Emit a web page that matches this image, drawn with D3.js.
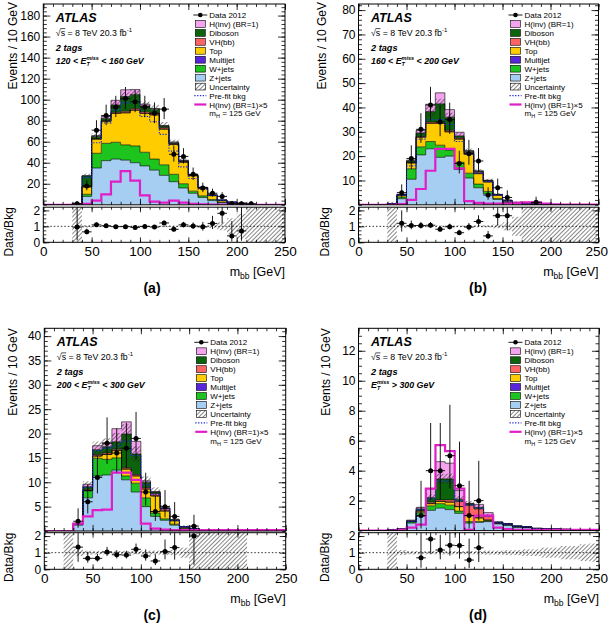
<!DOCTYPE html>
<html><head><meta charset="utf-8">
<script src="https://cdn.jsdelivr.net/npm/d3@7"></script>
<style>body{margin:0;background:#fff}svg{display:block}text{font-family:"Liberation Sans",Arial,Helvetica,sans-serif}</style>
</head><body><svg id="c" width="610" height="626"></svg>
<script>
// ---------------- DATA (25 bins of 10 GeV, 0-250 GeV) ----------------
const binEdges = d3.range(0, 251, 10);
const binCenters = d3.range(5, 250, 10);
const layerNames = ["Z+jets","W+jets","Top","Multijet","VH(bb)","Diboson","H(inv) (BR=1)"];
const xTickLabels = [0,50,100,150,200,250];

// (a) 120 < MET < 160 GeV
const aZjets   = [0,0,0,0.6,8,35,42,43.5,42.5,40,37,33,28,22,16,11,7,4,2,1,0.6,0.05,0.05,0.05,0.05];
const aWjets   = [0,0,0,0.1,2,14,16.5,16,14.5,16,13,10.5,10,7,4,2,1.5,1,0.5,0.3,0.2,0,0,0,0];
const aTop     = [0,0,0,0.2,7,13.5,21,27.5,30.5,34,37,42,34,28.5,20.5,14.5,7.3,3.6,1.4,1,0.5,0,0,0,0];
const aMultijet= [0,0,0,0,0,0,0,0,0,0,0,0,0,0,0.2,0.3,0.3,0.5,0.5,0.2,0.1,0,0,0,0];
const aVH      = [0,0,0,0,0.5,0.5,0.5,1,1.5,1.5,1.5,1.5,1.5,0.5,0.5,0.3,0.2,0,0,0,0,0,0,0,0];
const aDiboson = [0,0,0,0.15,10,2,2,7,14,13.5,5.5,4,1.5,1,0.8,0.4,0.2,0.2,0,0,0,0,0,0,0];
const aHinv    = [0,0,0,0,0.2,0.8,2,4.4,6.4,4.6,1.8,0.6,0.4,0.8,0.4,0.2,0.1,0.06,0.05,0,0,0,0,0,0];
const aData    = [0,0,0,1,18,71,85,93,101,98,93,87,91,48,46,29,16,11,8,1,1,1,0,0,0];
const aPrefit  = [0,0,0,1,26,59,78,90,97,98,84,79,67,51,36,25,15,9,4.5,2.3,1.3,0.05,0.05,0.05,0.05];
const aHinv5   = [0,0,0,0.2,1,4,10,22,32,23,9,3,2,4,2,1,0.5,0.3,0.2,0.1,0,0,0,0,0];
const aRelUnc  = [0,0,0,1.5,0.08,0.045,0.04,0.04,0.04,0.04,0.045,0.045,0.05,0.05,0.05,0.06,0.07,0.1,0.25,0.5,0.8,1.5,1.5,1.5,1.5];

// (b) 160 < MET < 200 GeV
const bZjets   = [0,0,0,0.3,2.5,10.5,20.5,23,19.5,20,14.5,11,7,4.5,2.2,0.9,0.3,0.2,0.15,0.05,0.05,0.05,0.05,0.05,0.05];
const bWjets   = [0,0,0,0.1,0.7,4.3,3.3,3,5,2.5,3,2,1.5,1,0.4,0.2,0.1,0.05,0,0,0,0,0,0,0];
const bTop     = [0,0,0,0.1,0.7,2.4,4,7.5,9,7.5,9.5,7.8,4.3,3.9,1.3,0.4,0.2,0.1,0.05,0,0,0,0,0,0];
const bMultijet= [0,0,0,0,0,0,0,0,0,0,0,0,0,0,0.2,0.3,0.3,0.2,0.1,0,0,0,0,0,0];
const bVH      = [0,0,0,0,0.1,0.2,0.3,0.5,0.6,0.6,0.5,0.7,0.6,0.3,0,0,0,0,0,0,0,0,0,0,0];
const bDiboson = [0,0,0,0,0.2,0.6,1.4,4.3,7.4,5.4,0.8,0.5,0.4,0.3,0.1,0,0,0,0,0,0,0,0,0,0];
const bHinv    = [0,0,0,0,0.1,0.3,1.1,3,4.5,3.1,1.5,0.3,0.15,0.1,0.1,0.1,0.15,0.2,0.2,0.1,0,0,0,0,0];
const bData    = [0,0,0,0,5,19,31,41,34,35,17,21,18,4,7,3,0,0,1,0,0,0,0,0,0];
const bPrefit  = [0,0,0,0.45,4,16,27,35,35,33,26,21,13,9.5,4,1.7,0.8,0.5,0.3,0.05,0.05,0.05,0.05,0.05,0.05];
const bHinv5   = [0,0,0,0,0.3,2,6.5,14,23,23,15,1.5,0.8,0.5,0.5,0.5,0.8,1,1,0.5,0.2,0.1,0.1,0.1,0.1];
const bRelUnc  = [0,0,0,1.5,0.1,0.05,0.05,0.05,0.05,0.05,0.05,0.05,0.06,0.07,0.12,0.25,0.6,1.5,1.5,1.5,1.5,1.5,1.5,1.5,1.5];

// (c) 200 < MET < 300 GeV
const cZjets   = [0,0,0.05,1.2,6.8,11.3,11.5,12.5,10.5,8,5,3,2.2,1.2,0.4,0.3,0.1,0.1,0.1,0.1,0.1,0,0,0,0];
const cWjets   = [0,0,0,0.2,1.5,3.6,3.2,2.5,0.8,1.8,1.8,0.7,0.3,0.2,0.1,0,0,0,0,0,0,0,0,0,0];
const cTop     = [0,0,0,0,0,0.5,1,1.5,1.4,1.5,1.8,3.5,1.6,0.7,0.2,0,0,0,0,0,0,0,0,0,0];
const cMultijet= [0,0,0,0,0,0,0,0,0,0,0,0,0,0,0.2,0.2,0,0,0,0,0,0,0,0,0];
const cVH      = [0,0,0,0,0.2,0.3,0.3,0.3,0.3,0.3,0.3,0.5,0.5,0.1,0,0,0,0,0,0,0,0,0,0,0];
const cDiboson = [0,0,0,0.1,0.6,1,1.3,1.5,6.9,4.2,1.1,0.3,0.1,0.1,0,0,0,0,0,0,0,0,0,0,0];
const cHinv    = [0,0,0,0.1,0.5,0.8,0.8,2.7,2.5,2.6,0.3,0.1,0.05,0,0,0,0,0,0,0,0,0,0,0,0];
const cData    = [0,0,0,2,6,11,18,16,17,19,8,4,5,3,0,1,0,0,0,0,0,0,0,0,0];
const cPrefit  = [0,0,0.05,1.4,9,16.5,17,17.5,18.5,15.5,9.5,7.5,4.5,2.2,0.9,0.5,0.1,0.1,0.1,0.1,0.1,0,0,0,0];
const cHinv5   = [0,0,0,1.5,3,4.3,4.4,12,12,10.5,1.5,0.5,0.3,0.2,0.2,0.2,0.2,0.2,0.2,0.2,0.2,0.2,0.2,0.2,0.2];
const cRelUnc  = [0,0,1.5,0.2,0.12,0.1,0.1,0.1,0.1,0.1,0.12,0.12,0.13,0.15,0.3,1.5,1.5,1.5,1.5,1.5,1.5,0,0,0,0];

// (d) MET > 300 GeV
const dZjets   = [0,0,0,0.05,0.08,0.5,0.95,1.35,1.5,1.4,1.15,0.5,0.55,0.6,0.45,0.35,0.22,0.19,0.12,0.1,0.1,0.08,0.06,0.06,0.06];
const dWjets   = [0,0,0,0,0.01,0.08,0.25,0.3,0.3,0.3,0.15,0.1,0.05,0.05,0.02,0.02,0.02,0.02,0.01,0.01,0,0,0,0,0];
const dTop     = [0,0,0,0,0.01,0.03,0.1,0.15,0.15,0.2,0.3,0.4,0.25,0.05,0.03,0.03,0.02,0.02,0.01,0.01,0,0,0,0,0];
const dMultijet= [0,0,0,0,0,0,0,0,0,0,0,0,0,0,0,0.05,0.04,0.02,0.01,0,0,0,0,0,0];
const dVH      = [0,0,0,0,0,0.02,0.05,0.1,0.1,0.15,0.35,0.7,0.6,0.25,0.05,0,0,0,0,0,0,0,0,0,0];
const dDiboson = [0,0,0,0,0,0.02,0.1,0.3,1.4,1.4,0.15,0.1,0.1,0.05,0,0,0,0,0,0,0,0,0,0,0];
const dHinv    = [0,0,0,0,0,0.05,0.1,0.6,1.15,1.05,0.57,0.02,0.2,0.2,0.04,0.02,0.01,0,0,0,0,0,0,0,0];
const dData    = [0,0,0,0,0,0,1,4,4,5,3,1,2,0,0,0,0,0,0,0,0,0,0,0,0];
const dPrefit  = [0,0,0,0.05,0.1,0.62,1.4,2.1,3.3,3.3,2.0,1.7,1.5,0.95,0.52,0.43,0.29,0.24,0.14,0.11,0.1,0.08,0.06,0.06,0.06];
const dHinv5   = [0,0,0,0,0.05,0.2,0.4,2.8,5.7,5.3,2.8,0.05,1,1,0.2,0.1,0.05,0.05,0.05,0.05,0.05,0.05,0.05,0.05,0.05];
const dRelUnc  = [0,0,0,1.5,0.15,0.1,0.1,0.1,0.1,0.1,0.1,0.1,0.1,0.12,0.12,0.15,0.15,0.2,0.2,0.3,0.3,0.4,0.4,0.5,0.55];

// ---------------- STYLE / LAYOUT ----------------
const layerColors = ["#a6cdf2","#1ec41e","#ffcc00","#5a23dc","#ff6464","#0b640b","#f4a3ef"];
const hinvLineColor = "#e01ec8", prefitColor = "#1e2dd6";

const panels = [
  {key:"a", label:"(a)", met:["120 < ", " < 160 GeV"],
   layers:[aZjets,aWjets,aTop,aMultijet,aVH,aDiboson,aHinv], data:aData, prefit:aPrefit, hinv5:aHinv5, rel:aRelUnc,
   f:{x0:43.3,x1:285,y0:4,y1:204.8,r0:207.2,r1:242.3}, ymax:191, yMajor:d3.range(20,181,20), yMinor:d3.range(0,191,4),
   evX:16.5, evY:2, dbX:13, labX:152, legTop:15},
  {key:"b", label:"(b)", met:["160 < ", " < 200 GeV"],
   layers:[bZjets,bWjets,bTop,bMultijet,bVH,bDiboson,bHinv], data:bData, prefit:bPrefit, hinv5:bHinv5, rel:bRelUnc,
   f:{x0:358.5,x1:598.5,y0:4,y1:204.8,r0:207.2,r1:242.3}, ymax:82.5, yMajor:d3.range(10,81,10), yMinor:d3.range(0,82.5,2),
   evX:326, evY:2, dbX:329, labX:478, legTop:15},
  {key:"c", label:"(c)", met:["200 < ", " < 300 GeV"],
   layers:[cZjets,cWjets,cTop,cMultijet,cVH,cDiboson,cHinv], data:cData, prefit:cPrefit, hinv5:cHinv5, rel:cRelUnc,
   f:{x0:44.3,x1:285.7,y0:328.3,y1:531,r0:532.7,r1:569.3}, ymax:41.6, yMajor:d3.range(5,41,5), yMinor:d3.range(0,41.6,1),
   evX:16.5, evY:328.3, dbX:13, labX:152, legTop:342.3},
  {key:"d", label:"(d)", met:["", " > 300 GeV"],
   layers:[dZjets,dWjets,dTop,dMultijet,dVH,dDiboson,dHinv], data:dData, prefit:dPrefit, hinv5:dHinv5, rel:dRelUnc,
   f:{x0:358.5,x1:599,y0:328.3,y1:530.6,r0:532.7,r1:569.3}, ymax:13.5, yMajor:d3.range(2,13,2), yMinor:d3.range(0,13.5,0.5),
   evX:330, evY:328.3, dbX:329, labX:478, legTop:342.3}
];

const svg = d3.select("#c");
const defs = svg.append("defs");
const pat = defs.append("pattern").attr("id","hatch").attr("patternUnits","userSpaceOnUse")
  .attr("width",3).attr("height",3).attr("patternTransform","rotate(45)");
pat.append("line").attr("x1",0).attr("y1",0).attr("x2",0).attr("y2",3).attr("stroke","#222").attr("stroke-width",1.1);

const poisUp = n => n + Math.sqrt(n + 0.75) + 1;
const poisLo = n => Math.max(0, n - Math.sqrt(Math.max(n - 0.25, 0)));

function styleAxis(g, fs) {
  g.select(".domain").remove();
  g.selectAll("line").attr("stroke","#000").attr("stroke-width",0.8);
  g.selectAll("text").attr("fill","#000").attr("font-size",fs).attr("font-family","Liberation Sans, Arial, sans-serif");
}

function drawPanel(p) {
  const f = p.f;
  const x = d3.scaleLinear().domain([0,250]).range([f.x0,f.x1]);
  const y = d3.scaleLinear().domain([0,p.ymax]).range([f.y1,f.y0]);
  const r = d3.scaleLinear().domain([0,2.2]).range([f.r1,f.r0]);
  const g = svg.append("g");
  defs.append("clipPath").attr("id","cm"+p.key).append("rect")
    .attr("x",f.x0).attr("y",f.y0).attr("width",f.x1-f.x0).attr("height",f.y1-f.y0);
  defs.append("clipPath").attr("id","cr"+p.key).append("rect")
    .attr("x",f.x0).attr("y",f.r0).attr("width",f.x1-f.x0).attr("height",f.r1-f.r0);
  const m = g.append("g").attr("clip-path",`url(#cm${p.key})`);

  let prev = binCenters.map(() => 0);
  const stacks = p.layers.map(arr => { const lo = prev; const hi = lo.map((v,i) => v + arr[i]); prev = hi; return {lo, hi}; });
  const bkg = stacks[5].hi;
  const idx = d3.range(26);
  const val = (arr,i) => arr[Math.min(i,24)];
  const area = (lo,hi) => d3.area().curve(d3.curveStepAfter).x(i => x(binEdges[i])).y0(i => y(val(lo,i))).y1(i => y(val(hi,i)));
  const line = arr => d3.line().curve(d3.curveStepAfter).x(i => x(binEdges[i])).y(i => y(val(arr,i)));

  stacks.forEach((s,li) => m.append("path").attr("d", area(s.lo,s.hi)(idx)).attr("fill", layerColors[li]));
  stacks.forEach((s,li) => m.append("path").attr("d", line(s.hi)(idx)).attr("fill","none").attr("stroke","#000").attr("stroke-width",0.6));

  binCenters.forEach((c,i) => {
    if (bkg[i] > 0 && p.rel[i] > 0) {
      const lo = Math.max(0, bkg[i]*(1-p.rel[i])), hi = bkg[i]*(1+p.rel[i]);
      m.append("rect").attr("x",x(binEdges[i])).attr("width",x(binEdges[i+1])-x(binEdges[i]))
        .attr("y",y(hi)).attr("height",Math.max(0.6,y(lo)-y(hi))).attr("fill","url(#hatch)");
    }
  });
  m.append("path").attr("d", line(p.prefit)(idx)).attr("fill","none").attr("stroke",prefitColor)
    .attr("stroke-width",1.2).attr("stroke-dasharray","1.3,1.5");
  m.append("path").attr("d", line(p.hinv5)(idx)).attr("fill","none").attr("stroke",hinvLineColor).attr("stroke-width",2.2);

  // data
  binCenters.forEach((c,i) => {
    const n = p.data[i]; if (n <= 0) return;
    m.append("line").attr("x1",x(c)).attr("x2",x(c)).attr("y1",y(poisLo(n))).attr("y2",y(poisUp(n))).attr("stroke","#000").attr("stroke-width",0.9);
    m.append("line").attr("x1",x(binEdges[i])).attr("x2",x(binEdges[i+1])).attr("y1",y(n)).attr("y2",y(n)).attr("stroke","#000").attr("stroke-width",0.9);
    m.append("circle").attr("cx",x(c)).attr("cy",y(n)).attr("r",2.5).attr("fill","#000");
  });

  // ratio
  const rg = g.append("g").attr("clip-path",`url(#cr${p.key})`);
  binCenters.forEach((c,i) => {
    if (bkg[i] > 0 && p.rel[i] > 0) {
      const lo = Math.max(0, 1-p.rel[i]), hi = Math.min(2.3, 1+p.rel[i]);
      rg.append("rect").attr("x",x(binEdges[i])).attr("width",x(binEdges[i+1])-x(binEdges[i]))
        .attr("y",r(hi)).attr("height",r(lo)-r(hi)).attr("fill","url(#hatch)");
    }
  });
  rg.append("line").attr("x1",f.x0).attr("x2",f.x1).attr("y1",r(1)).attr("y2",r(1))
    .attr("stroke","#000").attr("stroke-width",0.8).attr("stroke-dasharray","1.5,2");
  binCenters.forEach((c,i) => {
    const n = p.data[i]; if (n <= 0 || bkg[i] <= 0) return;
    const rv = n / bkg[i]; if (rv > 2.2) return;
    rg.append("line").attr("x1",x(c)).attr("x2",x(c)).attr("y1",r(poisLo(n)/bkg[i])).attr("y2",r(Math.min(2.3,poisUp(n)/bkg[i]))).attr("stroke","#000").attr("stroke-width",0.9);
    rg.append("line").attr("x1",x(binEdges[i])).attr("x2",x(binEdges[i+1])).attr("y1",r(rv)).attr("y2",r(rv)).attr("stroke","#000").attr("stroke-width",0.9);
    rg.append("circle").attr("cx",x(c)).attr("cy",r(rv)).attr("r",2.5).attr("fill","#000");
  });

  // axes main
  const xMinor = d3.range(0,251,10);
  g.append("g").attr("transform",`translate(${f.x0},0)`).call(d3.axisLeft(y).tickValues(p.yMajor).tickSize(-7).tickPadding(3).tickFormat(d3.format("d"))).call(a => styleAxis(a,12));
  g.append("g").attr("transform",`translate(${f.x0},0)`).call(d3.axisLeft(y).tickValues(p.yMinor).tickSize(-3.5).tickFormat("")).call(a => styleAxis(a,12));
  g.append("g").attr("transform",`translate(${f.x1},0)`).call(d3.axisRight(y).tickValues(p.yMajor).tickSize(-7).tickFormat("")).call(a => styleAxis(a,12));
  g.append("g").attr("transform",`translate(${f.x1},0)`).call(d3.axisRight(y).tickValues(p.yMinor).tickSize(-3.5).tickFormat("")).call(a => styleAxis(a,12));
  g.append("g").attr("transform",`translate(0,${f.y1})`).call(d3.axisBottom(x).tickValues(xTickLabels).tickSize(-6).tickFormat("")).call(a => styleAxis(a,12));
  g.append("g").attr("transform",`translate(0,${f.y1})`).call(d3.axisBottom(x).tickValues(xMinor).tickSize(-3).tickFormat("")).call(a => styleAxis(a,12));
  g.append("g").attr("transform",`translate(0,${f.y0})`).call(d3.axisTop(x).tickValues(xTickLabels).tickSize(-6).tickFormat("")).call(a => styleAxis(a,12));
  g.append("g").attr("transform",`translate(0,${f.y0})`).call(d3.axisTop(x).tickValues(xMinor).tickSize(-3).tickFormat("")).call(a => styleAxis(a,12));
  // axes ratio
  g.append("g").attr("transform",`translate(${f.x0},0)`).call(d3.axisLeft(r).tickValues([0,1,2]).tickSize(-6).tickPadding(3).tickFormat(d3.format("d"))).call(a => styleAxis(a,12));
  g.append("g").attr("transform",`translate(${f.x0},0)`).call(d3.axisLeft(r).tickValues(d3.range(0,2.21,0.25)).tickSize(-3).tickFormat("")).call(a => styleAxis(a,12));
  g.append("g").attr("transform",`translate(${f.x1},0)`).call(d3.axisRight(r).tickValues([0,1,2]).tickSize(-6).tickFormat("")).call(a => styleAxis(a,12));
  g.append("g").attr("transform",`translate(${f.x1},0)`).call(d3.axisRight(r).tickValues(d3.range(0,2.21,0.25)).tickSize(-3).tickFormat("")).call(a => styleAxis(a,12));
  const xb = g.append("g").attr("transform",`translate(0,${f.r1})`).call(d3.axisBottom(x).tickValues(xTickLabels).tickSize(-5).tickPadding(4).tickFormat(d3.format("d"))).call(a => styleAxis(a,13.5));
  xb.selectAll("text").each(function() {
    const bb = this.getBBox();
    const tr = this.parentNode.transform.baseVal.consolidate();
    const gx = tr ? tr.matrix.e : 0;
    const over = gx + bb.x + bb.width - 608;
    if (over > 0) d3.select(this).attr("x", -over);
  });
  g.append("g").attr("transform",`translate(0,${f.r1})`).call(d3.axisBottom(x).tickValues(xMinor).tickSize(-2.5).tickFormat("")).call(a => styleAxis(a,12));
  g.append("g").attr("transform",`translate(0,${f.r0})`).call(d3.axisTop(x).tickValues(xTickLabels).tickSize(-5).tickFormat("")).call(a => styleAxis(a,12));
  g.append("g").attr("transform",`translate(0,${f.r0})`).call(d3.axisTop(x).tickValues(xMinor).tickSize(-2.5).tickFormat("")).call(a => styleAxis(a,12));

  // frames
  g.append("rect").attr("x",f.x0).attr("y",f.y0).attr("width",f.x1-f.x0).attr("height",f.y1-f.y0).attr("fill","none").attr("stroke","#000").attr("stroke-width",1);
  g.append("rect").attr("x",f.x0).attr("y",f.r0).attr("width",f.x1-f.x0).attr("height",f.r1-f.r0).attr("fill","none").attr("stroke","#000").attr("stroke-width",1);

  // axis titles
  g.append("text").attr("transform",`translate(${p.evX},${p.evY}) rotate(-90)`).attr("text-anchor","end").attr("font-size",12).text("Events / 10 GeV");
  g.append("text").attr("transform",`translate(${p.dbX},${f.r0}) rotate(-90)`).attr("text-anchor","end").attr("font-size",12).text("Data/Bkg");
  const mt = g.append("text").attr("x",f.x1).attr("y",f.r1+33.5).attr("text-anchor","end").attr("font-size",12.5);
  mt.append("tspan").text("m");
  mt.append("tspan").attr("font-size",8.5).attr("dy",3).text("bb");
  mt.append("tspan").attr("dy",-3).text(" [GeV]");
  g.append("text").attr("x",p.labX).attr("y",f.r1+51).attr("text-anchor","middle").attr("font-size",14)
    .attr("font-weight","bold").attr("font-family","Liberation Serif, Times New Roman, serif").text(p.label);

  // left texts
  const tx = f.x0 + 12.5, ty = f.y0;
  g.append("text").attr("x",tx).attr("y",ty+17.5).attr("font-size",12.5).attr("font-weight","bold").attr("font-style","italic").text("ATLAS");
  const st = g.append("text").attr("x",tx).attr("y",ty+31.5).attr("font-size",8.8);
  const sq = st.append("tspan").text("\u221A");
  st.append("tspan").text("s = 8 TeV  20.3 fb");
  st.append("tspan").attr("font-size",6).attr("dy",-3.5).text("-1");
  const sw = sq.node().getComputedTextLength();
  g.append("line").attr("x1",tx+sw-0.3).attr("x2",tx+sw+4.6).attr("y1",ty+24.6).attr("y2",ty+24.6).attr("stroke","#000").attr("stroke-width",0.7);
  g.append("text").attr("x",tx).attr("y",ty+46.5).attr("font-size",9.2).attr("font-weight","bold").attr("font-style","italic").text("2 tags");
  const et = g.append("text").attr("x",tx).attr("y",ty+59.5).attr("font-size",8.8).attr("font-weight","bold").attr("font-style","italic");
  et.append("tspan").text(p.met[0] + "E");
  const ms = et.append("tspan").attr("font-size",5.5).attr("dy",-4).text("miss");
  const mw = ms.node().getComputedTextLength();
  const ts = et.append("tspan").attr("font-size",5.5).attr("dx",-mw).attr("dy",6.5).text("T");
  const tw = ts.node().getComputedTextLength();
  et.append("tspan").attr("dx",mw-tw).attr("dy",-2.5).text(p.met[1]);

  // legend
  const lx = f.x0 + 152, tlx = f.x0 + 166, rowH = 8.95, fs = 8;
  const rows = ["data", 6, 5, 4, 2, 3, 1, 0, "unc", "prefit", "hinv5", "mh"];
  rows.forEach((rw, k) => {
    const cy = p.legTop + k*rowH;
    const lt = g.append("text").attr("x",tlx).attr("y",cy+3).attr("font-size",fs);
    if (rw === "data") {
      g.append("line").attr("x1",lx-2).attr("x2",lx+12).attr("y1",cy).attr("y2",cy).attr("stroke","#000").attr("stroke-width",0.9);
      g.append("circle").attr("cx",lx+5).attr("cy",cy).attr("r",2.3).attr("fill","#000");
      lt.text("Data 2012");
    } else if (typeof rw === "number") {
      g.append("rect").attr("x",lx).attr("y",cy-3.4).attr("width",10).attr("height",6.8).attr("fill",layerColors[rw]).attr("stroke","#000").attr("stroke-width",0.6);
      lt.text(layerNames[rw]);
    } else if (rw === "unc") {
      g.append("rect").attr("x",lx).attr("y",cy-3.4).attr("width",10).attr("height",6.8).attr("fill","url(#hatch)").attr("stroke","#000").attr("stroke-width",0.6);
      lt.text("Uncertainty");
    } else if (rw === "prefit") {
      g.append("line").attr("x1",lx-1).attr("x2",lx+11).attr("y1",cy).attr("y2",cy).attr("stroke",prefitColor).attr("stroke-width",1.2).attr("stroke-dasharray","1.3,1.5");
      lt.text("Pre-fit bkg");
    } else if (rw === "hinv5") {
      g.append("line").attr("x1",lx-1).attr("x2",lx+11).attr("y1",cy).attr("y2",cy).attr("stroke",hinvLineColor).attr("stroke-width",2.2);
      lt.text("H(inv) (BR=1)\u00D75");
    } else {
      lt.append("tspan").text("m");
      lt.append("tspan").attr("font-size",5.5).attr("dy",2).text("H");
      lt.append("tspan").attr("dy",-2).text(" = 125 GeV");
    }
  });
}
panels.forEach(drawPanel);
</script></body></html>
